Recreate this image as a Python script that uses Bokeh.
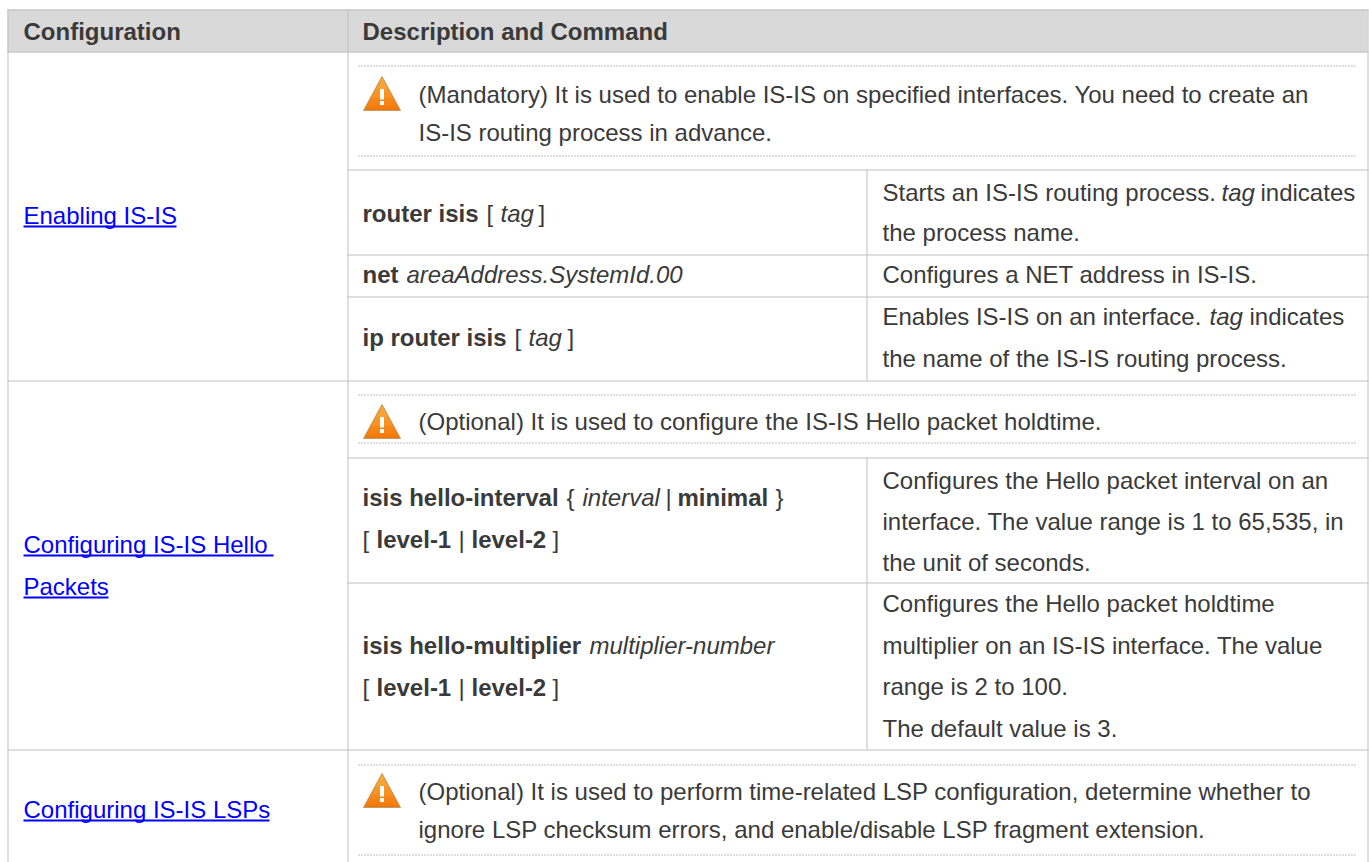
from bokeh.plotting import figure
from bokeh.models import Range1d
from bokeh.core.properties import value
from bokeh.embed import file_html
from bokeh.resources import INLINE

WIDTH, HEIGHT = 1369, 862
FS = "24px"
TEXT = "#3a3a3a"
LINK = "#0000ff"
GRID = "#bfbfbf"
BASE_OFFSET = 8.5  # distance between the y given to a text and its drawn baseline

# --- content ---
header_texts = ["Configuration", "Description and Command"]
link_texts = ["Enabling IS-IS", "Configuring IS-IS Hello", "Packets", "Configuring IS-IS LSPs"]
note_texts = [
    "(Mandatory) It is used to enable IS-IS on specified interfaces. You need to create an",
    "IS-IS routing process in advance.",
    "(Optional) It is used to configure the IS-IS Hello packet holdtime.",
    "(Optional) It is used to perform time-related LSP configuration, determine whether to",
    "ignore LSP checksum errors, and enable/disable LSP fragment extension.",
]
desc_runs = [
    ("Starts an IS-IS routing process.", "normal"), ("tag", "italic"), ("indicates", "normal"),
    ("the process name.", "normal"),
    ("Configures a NET address in IS-IS.", "normal"),
    ("Enables IS-IS on an interface.", "normal"), ("tag", "italic"), ("indicates", "normal"),
    ("the name of the IS-IS routing process.", "normal"),
    ("Configures the Hello packet interval on an", "normal"),
    ("interface. The value range is 1 to 65,535, in", "normal"),
    ("the unit of seconds.", "normal"),
    ("Configures the Hello packet holdtime", "normal"),
    ("multiplier on an IS-IS interface. The value", "normal"),
    ("range is 2 to 100.", "normal"),
    ("The default value is 3.", "normal"),
]
cmd_runs = [
    ("router isis", "bold"), ("[", "normal"), ("tag", "italic"), ("]", "normal"),
    ("net", "bold"), ("areaAddress.SystemId.00", "italic"),
    ("ip router isis", "bold"), ("[", "normal"), ("tag", "italic"), ("]", "normal"),
    ("isis hello-interval", "bold"), ("{", "normal"), ("interval", "italic"), ("|", "normal"),
    ("minimal", "bold"), ("}", "normal"),
    ("[", "normal"), ("level-1", "bold"), ("|", "normal"), ("level-2", "bold"), ("]", "normal"),
    ("isis hello-multiplier", "bold"), ("multiplier-number", "italic"),
    ("[", "normal"), ("level-1", "bold"), ("|", "normal"), ("level-2", "bold"), ("]", "normal"),
]

# --- layout (pixels of the page) ---
header_xy = [(23, 39), (362, 39)]
link_xy = [(23, 223), (23, 552), (23, 594), (23, 817)]
link_end = [176, 273, 108, 269]
note_xy = [(418, 102), (418, 140), (418, 429), (418, 799), (418, 837)]
desc_xy = [(882, 200), (1221, 200), (1260, 200), (882, 240), (882, 282),
           (882, 324), (1209, 324), (1249, 324), (882, 366),
           (882, 488), (882, 529), (882, 570),
           (882, 611), (882, 653), (882, 694), (882, 736)]
cmd_xy = [(362, 221), (486, 221), (500, 221), (538, 221),
          (362, 282), (406, 282),
          (362, 345), (514, 345), (528, 345), (567, 345),
          (362, 505), (566, 505), (582, 505), (665, 505), (677, 505), (775, 505),
          (362, 547), (376, 547), (458, 547), (471, 547), (552, 547),
          (362, 653), (589, 653),
          (362, 695), (376, 695), (458, 695), (471, 695), (552, 695)]
icon_xy = [(381.5, 76), (381.5, 404), (381.5, 773)]

LEFT, MID, RIGHT, INNER = 7, 347, 1367, 866
h_lines = [(LEFT, RIGHT, 9), (LEFT, RIGHT, 51), (MID, RIGHT, 169), (MID, RIGHT, 254), (MID, RIGHT, 296),
           (LEFT, RIGHT, 380), (MID, RIGHT, 457), (MID, RIGHT, 582), (LEFT, RIGHT, 749)]
v_lines = [(LEFT, 9, 862), (MID, 9, 862), (RIGHT, 9, 862), (INNER, 169, 380), (INNER, 457, 749)]
dotted = [(358, 1356, y) for y in (65, 155, 394, 442, 764, 854)]

p = figure(width=WIDTH, height=HEIGHT, x_range=Range1d(0, WIDTH), y_range=Range1d(HEIGHT, 0),
           output_backend="svg", toolbar_location=None, min_border=0,
           outline_line_color=None, background_fill_color="white")
p.xaxis.visible = False
p.yaxis.visible = False
p.grid.visible = False

p.quad(left=[LEFT], right=[RIGHT], top=[9], bottom=[52], fill_color="#d9d9d9", line_color=None)

p.segment(x0=[a for a, b, y in h_lines], x1=[b + 1 for a, b, y in h_lines],
          y0=[y + 0.5 for a, b, y in h_lines], y1=[y + 0.5 for a, b, y in h_lines],
          line_color=GRID, line_width=1)
p.segment(x0=[x + 0.5 for x, a, b in v_lines], x1=[x + 0.5 for x, a, b in v_lines],
          y0=[a for x, a, b in v_lines], y1=[b for x, a, b in v_lines],
          line_color=GRID, line_width=1)
p.segment(x0=[a for a, b, y in dotted], x1=[b for a, b, y in dotted],
          y0=[y + 0.5 for a, b, y in dotted], y1=[y + 0.5 for a, b, y in dotted],
          line_color="#808080", line_width=1, line_dash="1 2")


def put(items, xy, color=TEXT, style="normal"):
    p.text(x=[c[0] for c in xy], y=[c[1] - BASE_OFFSET for c in xy], text=items,
           text_font=value("Liberation Sans"), text_font_size=value(FS),
           text_font_style=style, text_color=color,
           text_baseline="alphabetic", text_align="left")


put(header_texts, header_xy, style="bold")
put(link_texts, link_xy, color=LINK)
put(note_texts, note_xy)
for runs, xys in ((desc_runs, desc_xy), (cmd_runs, cmd_xy)):
    for (t, st), c in zip(runs, xys):
        put([t], [c], style=st)

# link underlines
p.quad(left=[c[0] for c in link_xy], right=link_end,
       top=[c[1] + 2 for c in link_xy], bottom=[c[1] + 4 for c in link_xy],
       fill_color=LINK, line_color=None)

# warning icons
for (cx, top) in icon_xy:
    h, hw = 34, 18.5
    p.patch([cx, cx + hw, cx - hw], [top, top + h, top + h], fill_color="#d9720f",
            line_color="#c79a6a", line_width=1)
    n = 14
    for k in range(n):
        y0 = top + 1.5 + k * (h - 2.5) / n
        y1 = y0 + (h - 2.5) / n
        f = (k + 0.5) / n
        r, g, b = 253 - int(8 * f), 180 - int(60 * f), 72 - int(67 * f)
        w0, w1 = hw * (y0 - top) / h - 0.6, hw * (y1 - top) / h - 0.6
        p.patch([cx - w0, cx + w0, cx + w1, cx - w1], [y0, y0, y1, y1],
                fill_color=(r, g, b), line_color=None)
    p.quad(left=[cx - 2], right=[cx + 2], top=[top + 12.5], bottom=[top + 23],
           fill_color="white", line_color=None)
    p.quad(left=[cx - 2], right=[cx + 2], top=[top + 24.5], bottom=[top + 28.5],
           fill_color="white", line_color=None)

open("out.html", "w").write(file_html(p, INLINE))
